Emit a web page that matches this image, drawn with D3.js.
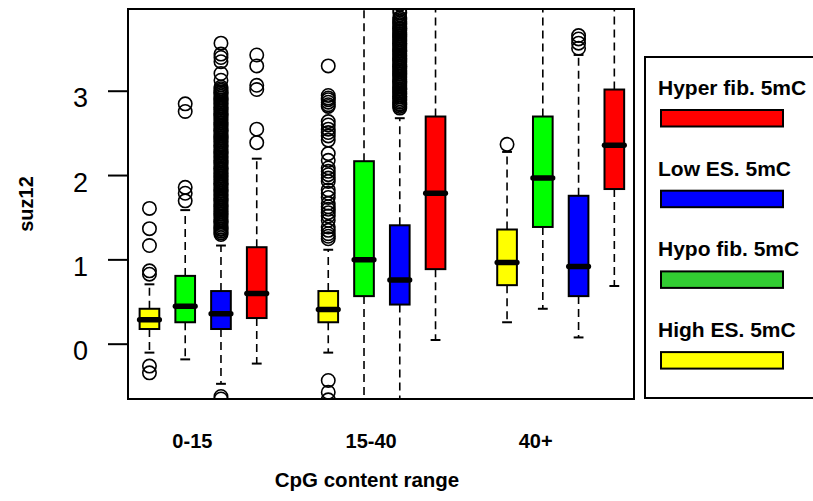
<!DOCTYPE html>
<html lang="en">
<head>
<meta charset="utf-8">
<title>suz12 by CpG content range</title>
<script src="https://d3js.org/d3.v7.min.js"></script>
<style>
  body { margin: 0; background: #fff; }
  svg text { font-family: "Liberation Sans", Arial, sans-serif; fill: #000; }
</style>
</head>
<body>
<svg id="chart"></svg>
<script>
var categories = ["0-15", "15-40", "40+"];
var labelAt = [2.2, 7.2, 11.8];
var yTicks = [0, 1, 2, 3];
var series = ["High ES. 5mC", "Hypo fib. 5mC", "Low ES. 5mC", "Hyper fib. 5mC"];
var boxColors = ["#ffff00", "#00ff00", "#0000ff", "#ff0000"];
var legendNames = ["Hyper fib. 5mC", "Low ES. 5mC", "Hypo fib. 5mC", "High ES. 5mC"];
var legendColors = ["#ff0000", "#0000ff", "#32cd32", "#ffff00"];

// [lower whisker, q1, median, q3, upper whisker], one row per category
var highES = [[-0.10, 0.18, 0.29, 0.42, 0.71], [-0.10, 0.26, 0.41, 0.63, 1.12], [0.26, 0.70, 0.97, 1.36, 2.28]];
var hypoFib = [[-0.18, 0.26, 0.45, 0.81, 1.59], [-1.5, 0.57, 1.00, 2.17, 4.5], [0.42, 1.39, 1.97, 2.70, 4.6]];
var lowES = [[-0.47, 0.18, 0.36, 0.63, 1.17], [-0.9, 0.47, 0.76, 1.41, 2.68], [0.08, 0.57, 0.92, 1.76, 3.43]];
var hyperFib = [[-0.23, 0.31, 0.60, 1.15, 2.20], [0.05, 0.89, 1.79, 2.70, 5.0], [0.69, 1.84, 2.36, 3.02, 4.7]];

// outliers
var highESOut = [
  [1.61, 1.37, 1.17, 0.87, 0.83, -0.26, -0.34],
  [3.30, 2.95, 2.92, 2.90, 2.87, 2.84, 2.82, 2.64, 2.60, 2.55, 2.51, 2.47, 2.42, 2.26, 2.18,
   2.09, 2.05, 2.01, 1.97, 1.93, 1.83, 1.79, 1.74, 1.67, 1.63, 1.60, 1.56, 1.52, 1.47, 1.39,
   1.35, 1.31, 1.28, 1.25, -0.43, -0.57, -0.66],
  [2.37]
];
var hypoFibOut = [[2.85, 2.76, 1.86, 1.79, 1.70], [], []];
var lowESOut = [
  [3.57, 3.44, 3.40, 3.35, 3.21, 3.13,
   3.05, 3.03, 3.01, 2.99, 2.98, 2.96, 2.94, 2.92, 2.90, 2.89, 2.87, 2.85, 2.83, 2.81, 2.80,
   2.78, 2.76, 2.74, 2.72, 2.71, 2.69, 2.67, 2.65, 2.63, 2.62, 2.60, 2.58, 2.56, 2.54, 2.53,
   2.51, 2.49, 2.47, 2.45, 2.44, 2.42, 2.40, 2.38, 2.36, 2.35, 2.33, 2.31, 2.29, 2.27, 2.26,
   2.24, 2.22, 2.20, 2.18, 2.17, 2.15, 2.13, 2.11, 2.09, 2.08, 2.06, 2.04, 2.02, 2.00, 1.99,
   1.97, 1.95, 1.93, 1.91, 1.90, 1.88, 1.86, 1.84, 1.82, 1.81, 1.79, 1.77, 1.75, 1.73, 1.72,
   1.70, 1.68, 1.66, 1.64, 1.63, 1.61, 1.59, 1.57, 1.55, 1.54, 1.52, 1.50, 1.48, 1.46, 1.45,
   1.43, 1.41, 1.39, 1.37, 1.36, 1.34, 1.32, 1.30, -0.62, -0.65],
  [2.80, 2.82, 2.84, 2.85, 2.87, 2.89, 2.91, 2.93, 2.94, 2.96, 2.98, 3.00, 3.02, 3.03, 3.05,
   3.07, 3.09, 3.11, 3.12, 3.14, 3.16, 3.18, 3.20, 3.21, 3.23, 3.25, 3.27, 3.29, 3.30, 3.32,
   3.34, 3.36, 3.38, 3.39, 3.41, 3.43, 3.45, 3.47, 3.48, 3.50, 3.52, 3.54, 3.56, 3.57, 3.59,
   3.61, 3.63, 3.65, 3.66, 3.68, 3.70, 3.72, 3.74, 3.75, 3.77, 3.79, 3.81, 3.83, 3.85, 3.87,
   3.93, 3.97, 4.03],
  [3.66, 3.62, 3.57, 3.51]
];
var hyperFibOut = [[3.43, 3.30, 3.07, 3.02, 2.55, 2.39], [], []];

var width = 813;
var height = 501;
var plot = { left: 128, right: 634, top: 9, bottom: 399 };

var svg = d3.select("#chart")
    .attr("width", width)
    .attr("height", height);

var x = d3.scaleLinear().domain([0.4, 14.55]).range([plot.left, plot.right]);
var y = d3.scaleLinear().domain([-0.65, 3.975]).range([plot.bottom, plot.top]);

var stats = [highES, hypoFib, lowES, hyperFib];
var outs = [highESOut, hypoFibOut, lowESOut, hyperFibOut];
var boxes = [];
categories.forEach(function (c, i) {
    series.forEach(function (s, j) {
        var v = stats[j][i];
        boxes.push({ pos: 1 + 5 * i + j, lo: v[0], q1: v[1], med: v[2], q3: v[3], hi: v[4],
                     color: boxColors[j], out: outs[j][i] });
    });
});

var bw = x(0.55) - x(0);

svg.append("clipPath").attr("id", "clip")
  .append("rect")
    .attr("x", plot.left).attr("y", plot.top)
    .attr("width", plot.right - plot.left).attr("height", plot.bottom - plot.top);

var g = svg.append("g").attr("clip-path", "url(#clip)");

var box = g.selectAll("g.box")
    .data(boxes)
    .enter().append("g")
    .attr("class", "box");

// whiskers, drawn from the box edge outwards
box.append("line")
    .attr("x1", function (d) { return x(d.pos); })
    .attr("x2", function (d) { return x(d.pos); })
    .attr("y1", function (d) { return y(d.q3); })
    .attr("y2", function (d) { return y(d.hi); })
    .attr("stroke", "#000").attr("stroke-width", 1.6).attr("stroke-dasharray", "8,5");
box.append("line")
    .attr("x1", function (d) { return x(d.pos); })
    .attr("x2", function (d) { return x(d.pos); })
    .attr("y1", function (d) { return y(d.q1); })
    .attr("y2", function (d) { return y(d.lo); })
    .attr("stroke", "#000").attr("stroke-width", 1.6).attr("stroke-dasharray", "8,5");

// staples
["lo", "hi"].forEach(function (k) {
    box.append("line")
        .attr("x1", function (d) { return x(d.pos) - bw / 4; })
        .attr("x2", function (d) { return x(d.pos) + bw / 4; })
        .attr("y1", function (d) { return y(d[k]); })
        .attr("y2", function (d) { return y(d[k]); })
        .attr("stroke", "#000").attr("stroke-width", 2);
});

box.append("rect")
    .attr("x", function (d) { return x(d.pos) - bw / 2; })
    .attr("y", function (d) { return y(d.q3); })
    .attr("width", bw)
    .attr("height", function (d) { return y(d.q1) - y(d.q3); })
    .attr("fill", function (d) { return d.color; })
    .attr("stroke", "#000").attr("stroke-width", 2);

box.append("line")
    .attr("x1", function (d) { return x(d.pos) - bw / 2; })
    .attr("x2", function (d) { return x(d.pos) + bw / 2; })
    .attr("y1", function (d) { return y(d.med); })
    .attr("y2", function (d) { return y(d.med); })
    .attr("stroke", "#000").attr("stroke-width", 5.5).attr("stroke-linecap", "round");

box.selectAll("circle")
    .data(function (d) { return d.out.map(function (v) { return { pos: d.pos, v: v }; }); })
    .enter().append("circle")
    .attr("cx", function (d) { return x(d.pos); })
    .attr("cy", function (d) { return y(d.v); })
    .attr("r", 6.7)
    .attr("fill", "none")
    .attr("stroke", "#000").attr("stroke-width", 1.6);

// frame
svg.append("rect")
    .attr("x", plot.left).attr("y", plot.top)
    .attr("width", plot.right - plot.left).attr("height", plot.bottom - plot.top)
    .attr("fill", "none").attr("stroke", "#000").attr("stroke-width", 2);

// y axis
var yax = svg.append("g");
yax.selectAll("line")
    .data(yTicks)
    .enter().append("line")
    .attr("x1", plot.left - 20).attr("x2", plot.left)
    .attr("y1", function (d) { return y(d); })
    .attr("y2", function (d) { return y(d); })
    .attr("stroke", "#000").attr("stroke-width", 2);
yax.selectAll("text")
    .data(yTicks)
    .enter().append("text")
    .attr("x", 88)
    .attr("y", function (d) { return y(d) + 16; })
    .attr("text-anchor", "end")
    .style("font-size", "27px")
    .text(function (d) { return d; });

svg.append("text")
    .attr("transform", "translate(33," + ((plot.top + plot.bottom) / 2) + ") rotate(-90)")
    .attr("text-anchor", "middle")
    .style("font-size", "20px").style("font-weight", "bold")
    .text("suz12");

// x labels
svg.selectAll("text.xlab")
    .data(categories)
    .enter().append("text")
    .attr("class", "xlab")
    .attr("x", function (d, i) { return x(labelAt[i]); })
    .attr("y", 448)
    .attr("text-anchor", "middle")
    .style("font-size", "20px").style("font-weight", "bold")
    .text(function (d) { return d; });

svg.append("text")
    .attr("x", 367)
    .attr("y", 487)
    .attr("text-anchor", "middle")
    .style("font-size", "20.5px").style("font-weight", "bold")
    .text("CpG content range");

// legend
var legend = svg.append("g");
legend.append("rect")
    .attr("x", 645).attr("y", 57).attr("width", 180).attr("height", 341)
    .attr("fill", "none").attr("stroke", "#000").attr("stroke-width", 2);
var item = legend.selectAll("g.item")
    .data(legendNames)
    .enter().append("g")
    .attr("class", "item")
    .attr("transform", function (d, i) { return "translate(0," + (i * 80.7) + ")"; });
item.append("text")
    .attr("x", 658).attr("y", 95)
    .style("font-size", "21px").style("font-weight", "bold")
    .text(function (d) { return d; });
item.append("rect")
    .attr("x", 661).attr("y", 110).attr("width", 122).attr("height", 16.5)
    .attr("fill", function (d, i) { return legendColors[i]; })
    .attr("stroke", "#000").attr("stroke-width", 2);
</script>
</body>
</html>
